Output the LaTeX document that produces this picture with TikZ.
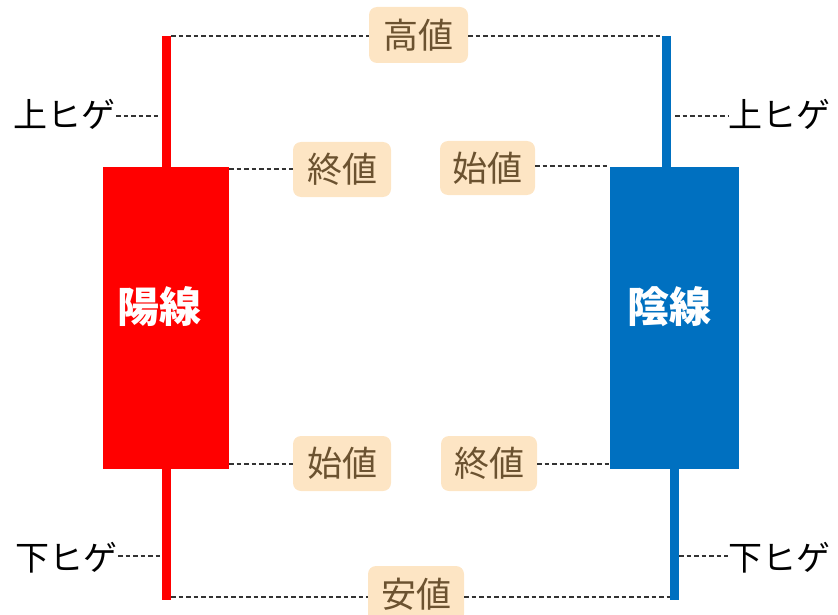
\documentclass[tikz,border=0pt]{standalone}
\usepackage{fontspec}
\newfontfamily\jp{Noto Sans CJK JP}
\definecolor{peach}{HTML}{FDE5C4}
\definecolor{brownt}{HTML}{6B5230}
\definecolor{candlered}{HTML}{FF0000}
\definecolor{candleblue}{HTML}{0070C0}
\begin{document}
\begin{tikzpicture}[x=1pt,y=-1pt,
  lbl/.style={fill=peach, rounded corners=8pt, text=brownt, inner sep=0pt,
    minimum width=97pt, minimum height=55pt, font=\jp\fontsize{35}{35}\selectfont},
  hige/.style={inner sep=0pt, font=\jp\fontsize{34}{34}\selectfont},
  body/.style={inner sep=0pt, minimum width=126pt, minimum height=302pt},
  bodytext/.style={text=white, inner sep=0pt, font=\jp\bfseries\fontsize{42}{42}\selectfont},
  wick/.style={line width=9pt},
  dash line/.style={line width=1.4pt, black!80, dash pattern=on 4.5pt off 3pt}]
\useasboundingbox (0,0) rectangle (838,615);
\clip (0,0) rectangle (838,615);
% wicks
\coordinate (rtop) at (166.5,36);
\coordinate (rbot) at (166.5,600);
\coordinate (btop) at (666.5,36);
\coordinate (bmid) at (666.5,300);
\coordinate (bmid2) at (674,300);
\coordinate (bbot) at (674,600);
\draw[wick, candlered] (rtop) -- (rbot);
\draw[wick, candleblue] (btop) -- (bmid);
\draw[wick, candleblue] (bmid2) -- (bbot);
% bodies
\node[body, fill=candlered] (red) at (166,318) {};
\node[body, fill=candleblue, minimum width=129pt] (blue) at (674.5,318) {};
\node[bodytext] (yo) at (159,307) {陽線};
\node[bodytext] (in) at (669,307) {陰線};
% labels
\node[lbl, minimum width=99pt, minimum height=56pt] (high) at (418.5,35) {高値};
\node[lbl, minimum width=98pt] (closeL) at (342,169.5) {終値};
\node[lbl, minimum width=95pt, minimum height=54pt] (openR) at (487.5,168) {始値};
\node[lbl, minimum width=98pt] (openL) at (342,463.5) {始値};
\node[lbl, minimum width=96pt] (closeR) at (489,463.5) {終値};
\node[lbl, minimum width=96pt, minimum height=56pt] (low) at (416,594) {安値};
% wick labels
\node[hige, anchor=east] (uL) at (116,114) {上ヒゲ};
\node[hige, anchor=west] (uR) at (728,114) {上ヒゲ};
\node[hige, anchor=east] (dL) at (118,558) {下ヒゲ};
\node[hige, anchor=west] (dR) at (728,558) {下ヒゲ};
% dashed connectors
\coordinate (hL) at (171,36);
\coordinate (hR) at (662,36);
\draw[dash line] (hL) -- (hL -| high.west);
\draw[dash line] (hR -| high.east) -- (hR);
\coordinate (cL) at (229,169);
\draw[dash line] (cL) -- (cL -| closeL.west);
\coordinate (oR) at (610,166);
\draw[dash line] (oR -| openR.east) -- (oR);
\coordinate (oL) at (229,464);
\draw[dash line] (oL) -- (oL -| openL.west);
\coordinate (cR) at (610,464);
\draw[dash line] (cR -| closeR.east) -- (cR);
\coordinate (lL) at (171,597);
\coordinate (lR) at (670,597);
\draw[dash line] (lL) -- (lL -| low.west);
\draw[dash line] (lR -| low.east) -- (lR);
\coordinate (uLw) at (161,116);
\coordinate (uRw) at (675,116);
\draw[dash line] (uL.east |- uLw) -- (uLw);
\draw[dash line] (uRw) -- (uRw -| uR.west);
\coordinate (dLw) at (161,556);
\coordinate (dRw) at (679,556);
\draw[dash line] (dL.east |- dLw) -- (dLw);
\draw[dash line] (dRw) -- (dRw -| dR.west);
\end{tikzpicture}
\end{document}
